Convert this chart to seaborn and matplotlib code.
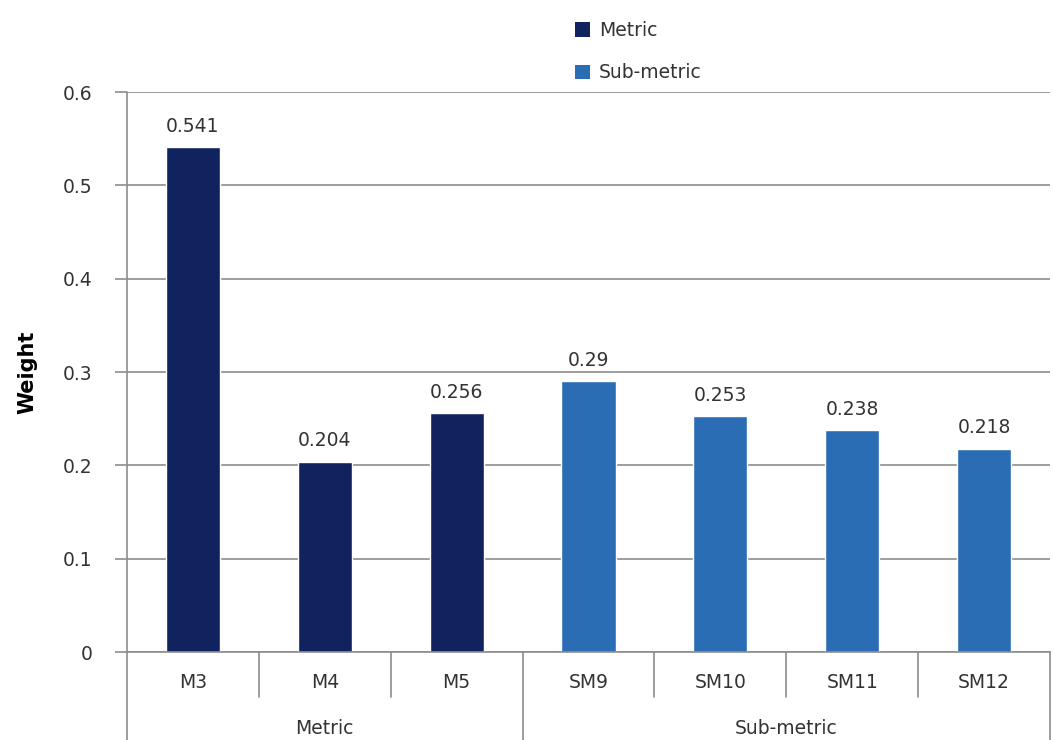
import matplotlib
matplotlib.use("Agg")
import matplotlib.pyplot as plt
import matplotlib.transforms as mtransforms
from matplotlib.patches import Patch
import pandas as pd
import seaborn as sns

# Weights per metric / sub-metric
categories = ["M3", "M4", "M5", "SM9", "SM10", "SM11", "SM12"]
groups = ["Metric", "Metric", "Metric", "Sub-metric", "Sub-metric", "Sub-metric", "Sub-metric"]
weights = [0.541, 0.204, 0.256, 0.29, 0.253, 0.238, 0.218]
group_names = ["Metric", "Sub-metric"]
y_ticks = [0, 0.1, 0.2, 0.3, 0.4, 0.5, 0.6]

palette = {"Metric": "#11235f", "Sub-metric": "#2b6db4"}
text_color = "#333333"
line_color = "#8c8c8c"
fs = 13.5

sns.set_theme(style="white")
plt.rcParams["font.family"] = ["DejaVu Sans"]

df = pd.DataFrame({"category": categories, "group": groups, "weight": weights})

fig = plt.figure(figsize=(10.54, 7.40), dpi=100)
ax = fig.add_axes([127 / 1054, 1 - 652 / 740, (1050 - 127) / 1054, (652 - 92) / 740])

sns.barplot(data=df, x="category", y="weight", hue="group", palette=palette,
            order=categories, hue_order=group_names, dodge=False, width=0.41,
            saturation=1, legend=False, ax=ax)

ax.set_xlim(-0.5, len(categories) - 0.5)
ax.set_ylim(0, 0.6)
ax.set_yticks(y_ticks)
ax.set_yticklabels([f"{t:g}" for t in y_ticks], fontsize=fs, color=text_color)
ax.yaxis.grid(True, color=line_color, linewidth=1.2)
ax.set_axisbelow(True)
ax.tick_params(axis="y", left=True, length=9, width=1.2, color=line_color, pad=16)
ax.tick_params(axis="x", bottom=False, labelbottom=False)
ax.set_xlabel("")
ax.set_ylabel("Weight", fontsize=15, fontweight="bold", color="black", labelpad=18)

for side in ["top", "right"]:
    ax.spines[side].set_visible(False)
ax.spines["left"].set_visible(False)
ax.spines["bottom"].set_color(line_color)
ax.spines["bottom"].set_linewidth(1.2)

# Value labels above bars
for i, v in enumerate(weights):
    ax.annotate(f"{v:g}", (i, v), xytext=(0, 8), textcoords="offset points",
                ha="center", va="bottom", fontsize=fs, color=text_color)

# Two-level category axis drawn below the plot
trans = mtransforms.blended_transform_factory(ax.transData, ax.transAxes)
inner_depth = -45 / 560
outer_depth = -90 / 560
for i, cat in enumerate(categories):
    ax.text(i, -31 / 560, cat, transform=trans, ha="center", va="center",
            fontsize=fs, color=text_color)

# Y axis line continues through the category area
ax.plot([-0.5, -0.5], [outer_depth, 1], transform=trans, color=line_color,
        linewidth=1.2, clip_on=False)

start = 0
for name in group_names:
    n = groups.count(name)
    end = start + n
    for b in range(start + 1, end):
        ax.plot([b - 0.5, b - 0.5], [0, inner_depth], transform=trans,
                color=line_color, linewidth=1.2, clip_on=False)
    ax.plot([end - 0.5, end - 0.5], [0, outer_depth], transform=trans,
            color=line_color, linewidth=1.2, clip_on=False)
    ax.text((start + end - 1) / 2, -77 / 560, name, transform=trans,
            ha="center", va="center", fontsize=fs, color=text_color)
    start = end

# Legend above the plot
handles = [Patch(facecolor=palette[g], edgecolor="none", label=g) for g in group_names]
fig.legend(handles=handles, loc="upper left", bbox_to_anchor=(558 / 1054, 1 - 4 / 740),
           frameon=False, fontsize=fs, handlelength=0.8, handleheight=0.8,
           handletextpad=0.5, labelspacing=1.25, labelcolor=text_color)

fig.savefig("out.png", dpi=100)
